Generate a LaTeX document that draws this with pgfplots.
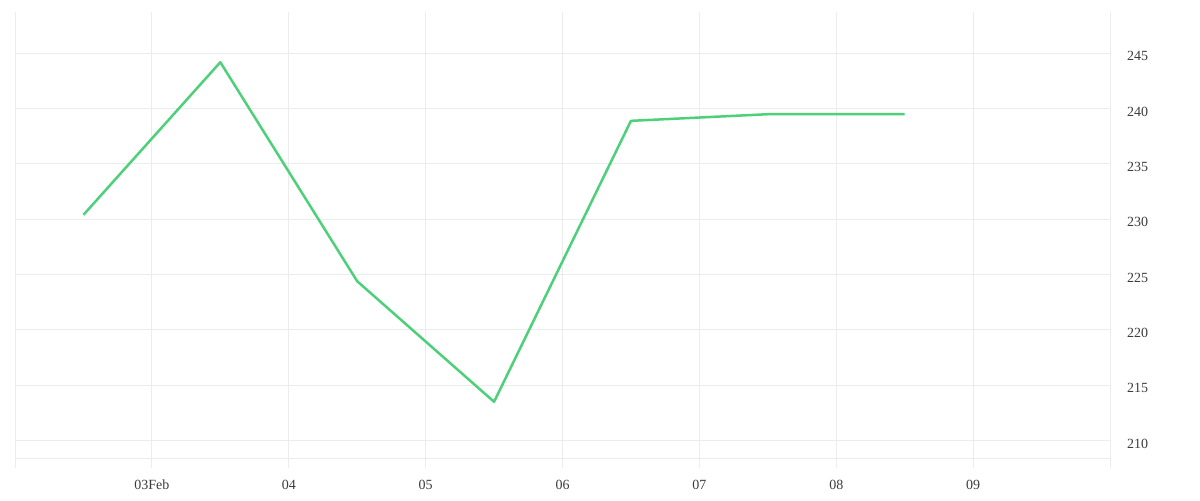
\documentclass[border=0pt]{standalone}
\usepackage{fontspec}
\setmainfont{Liberation Serif}
\usepackage{pgfplots}
\pgfplotsset{compat=1.18}
\definecolor{linegreen}{RGB}{77,208,121}
\definecolor{gridgray}{RGB}{236,236,236}
\definecolor{textgray}{RGB}{60,60,60}
\begin{document}
\begin{tikzpicture}
\useasboundingbox (0,0) rectangle (600pt,250pt);
\begin{axis}[
  at={(7.5pt,16.25pt)}, anchor=south west,
  scale only axis, width=547.5pt, height=227.75pt,
  xmin=2, xmax=10, ymin=207.56, ymax=248.74,
  axis line style={draw=none},
  major tick length=0pt,
  xtick={3,4,5,6,7,8,9},
  xticklabels={03Feb,04,05,06,07,08,09},
  extra x ticks={2,10}, extra x tick labels={},
  extra x tick style={grid=major},
  ytick={210,215,220,225,230,235,240,245},
  extra y ticks={208.39}, extra y tick labels={},
  extra y tick style={grid=major},
  yticklabel pos=right,
  grid=major,
  grid style={gridgray, line width=0.5pt},
  tick label style={font=\fontsize{7}{8}\selectfont, text=textgray},
  yticklabel style={anchor=west, xshift=5pt, yshift=-1.5pt},
  xticklabel style={anchor=north, yshift=-2.6pt},
  /pgf/number format/assume math mode=true,
  clip=false,
]
\addplot[linegreen, line width=1.25pt, line join=round, mark=none] coordinates {
  (2.5,230.4) (3.5,244.2) (4.5,224.4) (5.5,213.5) (6.5,238.9) (7.5,239.5) (8.5,239.5)
};
\end{axis}
\end{tikzpicture}
\end{document}
